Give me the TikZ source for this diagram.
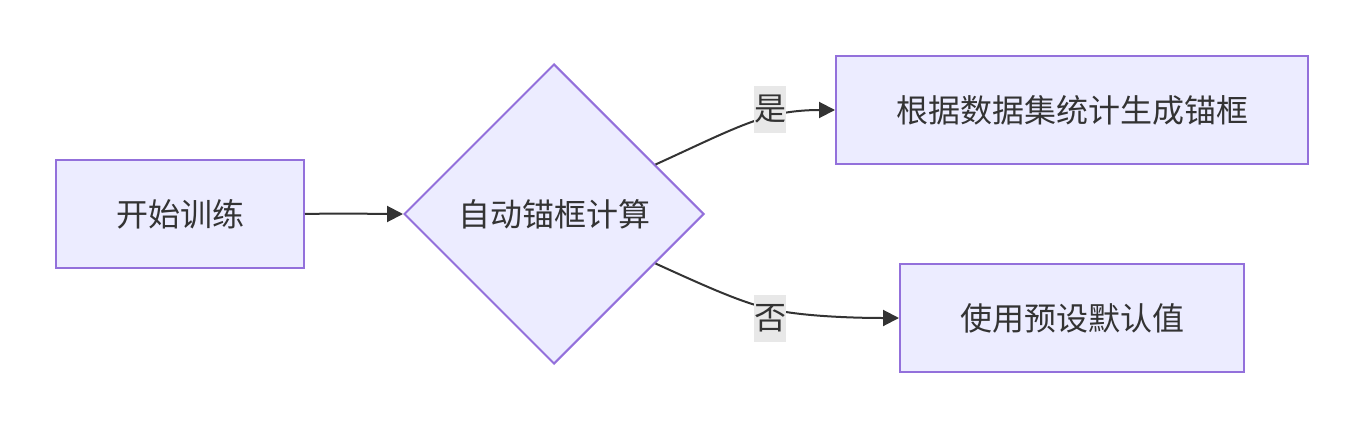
\documentclass[tikz,border=0pt]{standalone}
\usepackage{fontspec}
\setmainfont{Noto Sans CJK SC}
\usetikzlibrary{shapes.geometric,arrows.meta}
\definecolor{nodefill}{HTML}{ECECFF}
\definecolor{nodeline}{HTML}{9370DB}
\definecolor{edgecol}{HTML}{333333}
\definecolor{lblbg}{HTML}{E8E8E8}
\tikzset{
  box/.style={draw=nodeline, fill=nodefill, line width=2pt, text=edgecol, font=\fontsize{32}{38}\selectfont, inner sep=0pt},
  dia/.style={diamond, draw=nodeline, fill=nodefill, line width=2pt, text=edgecol, font=\fontsize{32}{38}\selectfont, inner sep=0pt, minimum width=300pt, minimum height=300pt},
  lbl/.style={fill=lblbg, text=edgecol, font=\fontsize{32}{38}\selectfont, inner sep=0pt, minimum width=32pt, minimum height=47pt},
  arr/.style={draw=edgecol, line width=2pt, -{Triangle[length=16pt,width=16pt]}}
}
\begin{document}
\begin{tikzpicture}[x=1pt,y=-1pt]
\useasboundingbox (0,0) rectangle (1364,428);
\node[box, minimum width=248pt, minimum height=108pt] (a) at (180,214) {开始训练};
\node[dia] (d) at (554,214) {自动锚框计算};
\node[box, minimum width=472pt, minimum height=108pt] (b) at (1072,110) {根据数据集统计生成锚框};
\node[box, minimum width=344pt, minimum height=108pt] (c) at (1072,318) {使用预设默认值};
\draw[arr] (a.east) .. controls (354,213) and (370,214) .. (d.west);
\draw[arr] (d.26) .. controls (705,142) and (738,125) .. (770,116) .. controls (792,110) and (815,110) .. (b.west);
\draw[arr] (d.-26) .. controls (705,286) and (740,302) .. (770,309) .. controls (800,316) and (850,318) .. (c.west);
\node[lbl] (yes) at (770,109.5) {是};
\node[lbl] (no) at (770,318) {否};
\end{tikzpicture}
\end{document}
